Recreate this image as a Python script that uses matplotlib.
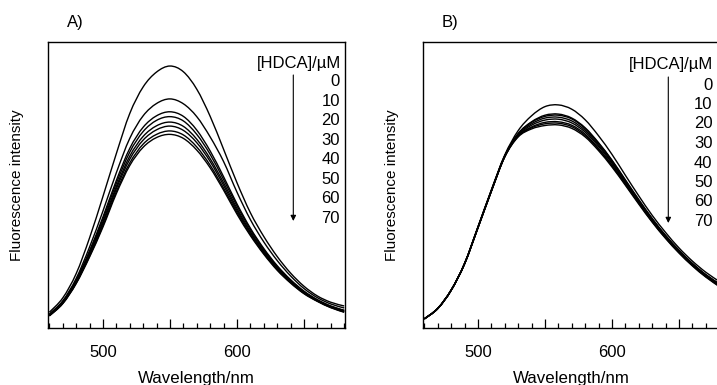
import matplotlib
matplotlib.use("Agg")
import matplotlib.pyplot as plt
from matplotlib.path import Path
from matplotlib.patches import PathPatch, FancyArrowPatch
from matplotlib.ticker import MultipleLocator, FixedLocator

plt.rcParams['font.family'] = ['Liberation Sans', 'DejaVu Sans']

# ---------------- data ----------------
wavelength = [460, 470, 480, 490, 500, 510, 520, 530, 540, 550, 560, 570,
              580, 590, 600, 610, 620, 630, 640, 650, 660, 670, 680]
conc_labels = ["0", "10", "20", "30", "40", "50", "60", "70"]

# Panel A: fluorescence intensity (arb. units) for [HDCA] = 0..70 uM
A_0  = [0.055, 0.105, 0.190, 0.315, 0.460, 0.610, 0.750, 0.843, 0.895, 0.916, 0.896, 0.835,
        0.740, 0.625, 0.508, 0.403, 0.320, 0.250, 0.192, 0.146, 0.112, 0.090, 0.077]
A_10 = [0.049, 0.095, 0.173, 0.283, 0.409, 0.543, 0.663, 0.742, 0.785, 0.801, 0.784, 0.739,
        0.668, 0.582, 0.475, 0.379, 0.301, 0.236, 0.182, 0.138, 0.106, 0.084, 0.070]
A_20 = [0.046, 0.092, 0.167, 0.270, 0.388, 0.516, 0.628, 0.702, 0.742, 0.756, 0.740, 0.692,
        0.619, 0.529, 0.434, 0.349, 0.278, 0.218, 0.169, 0.129, 0.099, 0.077, 0.062]
A_30 = [0.045, 0.090, 0.164, 0.265, 0.381, 0.506, 0.615, 0.687, 0.726, 0.739, 0.724, 0.677,
        0.607, 0.519, 0.427, 0.344, 0.274, 0.214, 0.166, 0.127, 0.098, 0.076, 0.061]
A_40 = [0.044, 0.089, 0.161, 0.260, 0.372, 0.495, 0.601, 0.670, 0.707, 0.720, 0.705, 0.660,
        0.592, 0.508, 0.418, 0.337, 0.269, 0.211, 0.163, 0.125, 0.096, 0.074, 0.059]
A_50 = [0.044, 0.087, 0.159, 0.256, 0.366, 0.487, 0.590, 0.657, 0.693, 0.706, 0.691, 0.648,
        0.582, 0.499, 0.411, 0.333, 0.265, 0.208, 0.161, 0.123, 0.095, 0.073, 0.058]
A_60 = [0.043, 0.086, 0.157, 0.251, 0.358, 0.477, 0.577, 0.643, 0.677, 0.689, 0.675, 0.633,
        0.569, 0.489, 0.404, 0.327, 0.261, 0.204, 0.159, 0.121, 0.094, 0.072, 0.056]
A_70 = [0.042, 0.085, 0.155, 0.248, 0.353, 0.470, 0.568, 0.632, 0.666, 0.677, 0.663, 0.622,
        0.560, 0.482, 0.398, 0.323, 0.258, 0.202, 0.157, 0.120, 0.093, 0.071, 0.055]

# Panel B
B_0  = [0.032, 0.069, 0.133, 0.226, 0.354, 0.483, 0.605, 0.690, 0.742, 0.774, 0.780, 0.765,
        0.728, 0.672, 0.607, 0.534, 0.462, 0.394, 0.334, 0.280, 0.234, 0.195, 0.163]
B_10 = [0.032, 0.069, 0.133, 0.225, 0.352, 0.481, 0.602, 0.680, 0.721, 0.744, 0.748, 0.734,
        0.700, 0.648, 0.587, 0.518, 0.449, 0.383, 0.324, 0.272, 0.226, 0.187, 0.155]
B_20 = [0.032, 0.068, 0.132, 0.225, 0.352, 0.480, 0.601, 0.679, 0.719, 0.740, 0.744, 0.731,
        0.697, 0.645, 0.585, 0.516, 0.447, 0.382, 0.323, 0.271, 0.225, 0.186, 0.154]
B_30 = [0.032, 0.068, 0.132, 0.225, 0.352, 0.480, 0.601, 0.677, 0.714, 0.734, 0.737, 0.724,
        0.691, 0.640, 0.580, 0.513, 0.444, 0.379, 0.321, 0.269, 0.224, 0.185, 0.152]
B_40 = [0.032, 0.068, 0.132, 0.225, 0.351, 0.479, 0.600, 0.674, 0.709, 0.727, 0.730, 0.717,
        0.685, 0.635, 0.576, 0.509, 0.441, 0.377, 0.319, 0.267, 0.222, 0.183, 0.150]
B_50 = [0.032, 0.068, 0.132, 0.224, 0.351, 0.479, 0.599, 0.672, 0.703, 0.719, 0.721, 0.709,
        0.678, 0.628, 0.570, 0.505, 0.438, 0.374, 0.316, 0.265, 0.220, 0.181, 0.148]
B_60 = [0.032, 0.068, 0.132, 0.224, 0.350, 0.478, 0.599, 0.670, 0.700, 0.714, 0.716, 0.704,
        0.673, 0.625, 0.567, 0.502, 0.436, 0.372, 0.315, 0.264, 0.219, 0.180, 0.147]
B_70 = [0.032, 0.068, 0.132, 0.224, 0.350, 0.478, 0.598, 0.668, 0.696, 0.708, 0.710, 0.698,
        0.668, 0.620, 0.563, 0.499, 0.433, 0.370, 0.313, 0.262, 0.217, 0.178, 0.145]

panel_A = [A_0, A_10, A_20, A_30, A_40, A_50, A_60, A_70]
panel_B = [B_0, B_10, B_20, B_30, B_40, B_50, B_60, B_70]
tick_labels = {500: "500", 600: "600"}

# ---------------- figure ----------------
W, H = 717, 385
fig = plt.figure(figsize=(W / 100, H / 100), dpi=100)


def fx(x):
    return x / W


def fy(y):
    return 1 - y / H


def make_axes(left_px, right_px, top_px, bottom_px):
    return fig.add_axes([fx(left_px), fy(bottom_px),
                         (right_px - left_px) / W, (bottom_px - top_px) / H])


def smooth_line(ax, xs, ys, **kw):
    """Draw a smooth (Catmull-Rom style Bezier) line through the data points."""
    n = len(xs)
    verts = [(xs[0], ys[0])]
    codes = [Path.MOVETO]
    for i in range(n - 1):
        x0, y0 = (xs[i - 1], ys[i - 1]) if i > 0 else (xs[i], ys[i])
        x1, y1 = xs[i], ys[i]
        x2, y2 = xs[i + 1], ys[i + 1]
        x3, y3 = (xs[i + 2], ys[i + 2]) if i + 2 < n else (x2, y2)
        c1 = (x1 + (x2 - x0) / 6, y1 + (y2 - y0) / 6)
        c2 = (x2 - (x3 - x1) / 6, y2 - (y3 - y1) / 6)
        verts += [c1, c2, (x2, y2)]
        codes += [Path.CURVE4] * 3
    ax.add_patch(PathPatch(Path(verts, codes), fill=False, transform=ax.transData, **kw))


axA = make_axes(48, 345, 42, 328)
axB = make_axes(423, 720, 42, 328)

FS = 12
for ax, curves, letter, lx in [(axA, panel_A, "A)", 67), (axB, panel_B, "B)", 442)]:
    for c in curves:
        smooth_line(ax, wavelength, c, edgecolor='black', lw=1.0, joinstyle='round')
    ax.set_xlim(459, 680.6)
    ax.set_ylim(0, 1)
    ax.xaxis.set_major_locator(FixedLocator([500, 550, 600, 650]))
    ax.xaxis.set_minor_locator(MultipleLocator(10))
    ax.set_xticklabels([tick_labels.get(v, "") for v in [500, 550, 600, 650]])
    ax.tick_params(axis='x', which='major', direction='in', length=6.5, width=0.9,
                   labelsize=FS, pad=12, top=False)
    ax.tick_params(axis='x', which='minor', direction='in', length=3.5, width=0.9, top=False)
    ax.set_yticks([])
    for s in ax.spines.values():
        s.set_linewidth(1.0)
    ax.set_xlabel("Wavelength/nm", fontsize=12.2, va='center')
    ax.xaxis.set_label_coords(0.5, (328 - 378) / 286)
    ax.set_ylabel("Fluorescence intensity", fontsize=11, va='center')
    ax.yaxis.set_label_coords(-0.103, 0.5)
    fig.text(fx(lx), fy(22), letter, fontsize=FS, ha='left', va='center')


def annotate_conc(right_px, title_y, first_y, step, arrow_x, arrow_y0, arrow_y1):
    fig.text(fx(right_px + 1), fy(title_y), "[HDCA]/\u00b5M", fontsize=FS,
             ha='right', va='center')
    for i, lab in enumerate(conc_labels):
        fig.text(fx(right_px), fy(first_y + i * step), lab, fontsize=FS,
                 ha='right', va='center')
    fig.add_artist(FancyArrowPatch(
        (fx(arrow_x), fy(arrow_y0)), (fx(arrow_x), fy(arrow_y1)),
        transform=fig.transFigure, arrowstyle='-|>', mutation_scale=8,
        lw=0.8, color='black', shrinkA=0, shrinkB=0))


annotate_conc(340, 63.5, 81.7, 19.5, 293.3, 75, 221)
annotate_conc(712.5, 65, 85, 19.5, 668.3, 77, 223)

fig.savefig("out.png", dpi=100)
